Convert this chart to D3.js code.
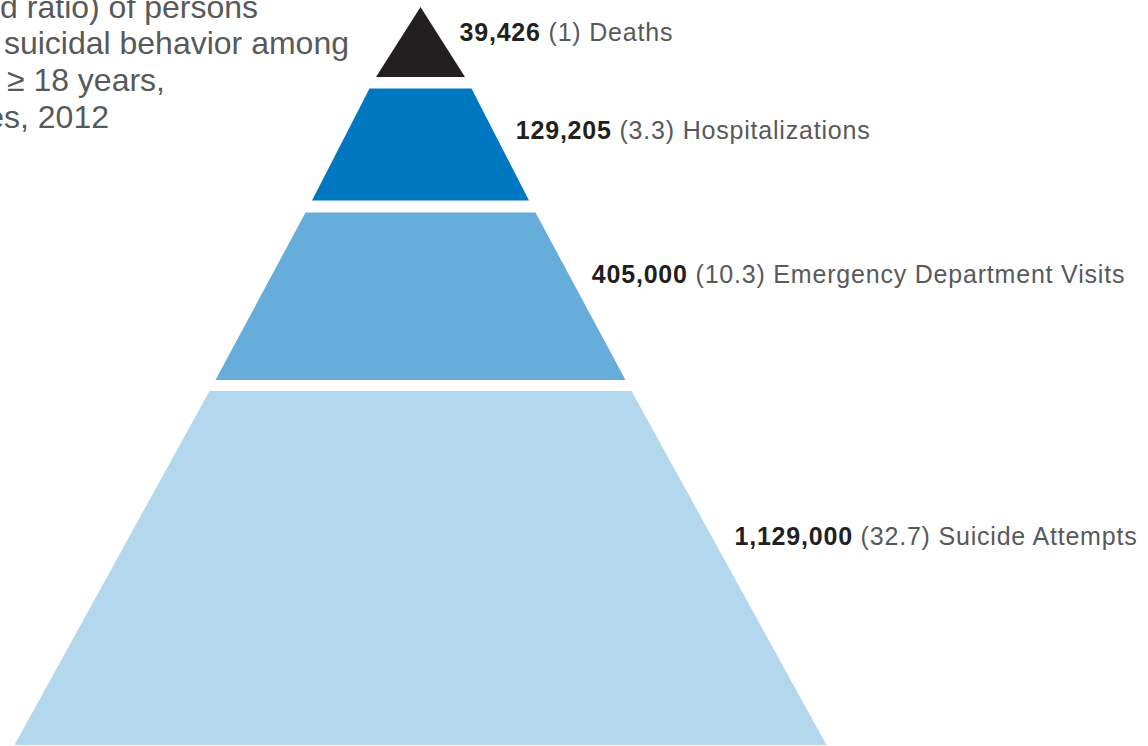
<!DOCTYPE html>
<html>
<head>
<meta charset="utf-8">
<script src="https://cdn.jsdelivr.net/npm/d3@7"></script>
<style>
  html, body { margin: 0; padding: 0; background: #ffffff; overflow: hidden; }
  svg { display: block; }
</style>
</head>
<body>
<svg id="chart" width="1148" height="746"></svg>
<script>
// ---------- data ----------
const categories = ["Deaths", "Hospitalizations", "Emergency Department Visits", "Suicide Attempts"];
const counts = [39426, 129205, 405000, 1129000];
const ratios = ["1", "3.3", "10.3", "32.7"];
const titleLines = [
  "Number (and ratio) of persons",
  "engaged in suicidal behavior among",
  "adults aged \u2265 18 years,",
  "United States, 2012"
];

// ---------- layout ----------
const W = 1148, H = 746;
const cx = 420.5;
const layerTop = [7, 88.5, 212.5, 391];
const layerBottom = [77, 200.5, 380, 745];
const layerColors = ["#231f20", "#0077c1", "#66addb", "#b3d7ec"];
const labelFrac = [0.36, 0.37, 0.37, 0.41];
const titleRight = [258, 349, 165, 109];   // right ends of the (left-clipped) title lines

// half-width of the pyramid as a function of vertical position
const halfWidth = d3.scaleLinear()
  .domain([7, 77, 88.5, 200.5, 212.5, 380, 391, 745])
  .range([0, 44.5, 51, 108.5, 115, 205, 211, 406]);

const svg = d3.select("#chart");
const fmt = d3.format(",");

const layers = categories.map((c, i) => ({
  name: c, count: counts[i], ratio: ratios[i],
  top: layerTop[i], bottom: layerBottom[i], color: layerColors[i], i
}));

// pyramid layers
svg.append("g").selectAll("path")
  .data(layers)
  .join("path")
  .attr("d", d => {
    const t = d.top, b = d.bottom;
    const ht = halfWidth(t), hb = halfWidth(b);
    const p = d3.path();
    p.moveTo(cx - ht, t);
    p.lineTo(cx + ht, t);
    p.lineTo(cx + hb, b);
    p.lineTo(cx - hb, b);
    p.closePath();
    return p.toString();
  })
  .attr("fill", d => d.color);

// labels
const lab = svg.append("g").selectAll("text")
  .data(layers)
  .join("text")
  .attr("x", d => {
    const y = d.top + labelFrac[d.i] * (d.bottom - d.top);
    return cx + halfWidth(y) + 23;
  })
  .attr("y", d => d.top + labelFrac[d.i] * (d.bottom - d.top))
  .attr("dy", "0.36em")
  .attr("font-family", "'Liberation Sans', Arial, Helvetica, sans-serif")
  .attr("font-size", 25)
  .attr("letter-spacing", 0.8);

lab.append("tspan")
  .attr("font-weight", "bold")
  .attr("fill", "#231f20")
  .text(d => fmt(d.count));
lab.append("tspan")
  .attr("fill", "#58595b")
  .text(d => " (" + d.ratio + ") " + d.name);

// title (partially cut off at left, as in the reference)
svg.append("g").selectAll("text")
  .data(titleLines)
  .join("text")
  .attr("x", (d, i) => titleRight[i])
  .attr("y", (d, i) => 17.5 + i * 36.8)
  .attr("text-anchor", "end")
  .attr("font-family", "'Liberation Sans', Arial, Helvetica, sans-serif")
  .attr("font-size", 32)
  .attr("fill", "#58595b")
  .text(d => d);
</script>
</body>
</html>
